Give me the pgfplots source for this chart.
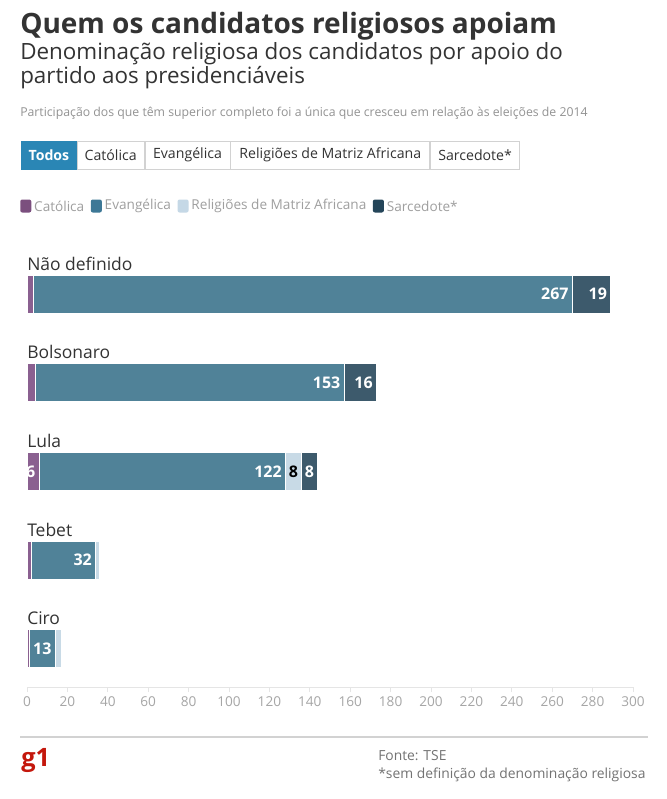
\documentclass[border=0pt]{standalone}
\usepackage{pgfplots}
\pgfplotsset{compat=1.18}
\usepackage{pgfplotstable}
\usepackage{fontspec}
\setmainfont{Open Sans}

\definecolor{cCat}{HTML}{8A6090}
\definecolor{cEvg}{HTML}{508298}
\definecolor{cAfr}{HTML}{C8DAE6}
\definecolor{cSac}{HTML}{3D5A6C}
\definecolor{lCat}{HTML}{7B4F7E}
\definecolor{lEvg}{HTML}{3D7896}
\definecolor{lAfr}{HTML}{C5D8E6}
\definecolor{lSac}{HTML}{244559}
\definecolor{btnBlue}{HTML}{2A86B5}
\definecolor{txtDark}{HTML}{333333}
\definecolor{g1red}{HTML}{C4170C}

\pgfplotstableread{
idx cat catl evg evgl afr afrl sac sacl
0 3 {} 267 267 0 {} 19 19
1 4 {} 153 153 0 {} 16 16
2 6 6 122 122 8 8 8 8
3 2 {} 32 32 2 {} 0 {}
4 1 {} 13 13 3 {} 0 {}
}\data

\begin{document}
\begin{tikzpicture}
\begin{scope}[x=0.75pt,y=-0.75pt]
\path[use as bounding box, fill=white] (0,0) rectangle (667,799);
% title
\node[anchor=base west, inner sep=0, font=\fontsize{21}{24}\selectfont\bfseries, text=txtDark] at (20,34) {Quem os candidatos religiosos apoiam};
\node[anchor=base west, inner sep=0, font=\fontsize{16.8}{19}\selectfont, text=txtDark] at (20,60) {Denominação religiosa dos candidatos por apoio do};
\node[anchor=base west, inner sep=0, font=\fontsize{16.8}{19}\selectfont, text=txtDark] at (20,84) {partido aos presidenciáveis};
\node[anchor=base west, inner sep=0, font=\fontsize{9.2}{11}\selectfont, text=gray!85] at (20,116) {Participação dos que têm superior completo foi a única que cresceu em relação às eleições de 2014};
% buttons
\tikzset{btn/.style={draw=gray!35, line width=0.6pt, minimum height=21pt, inner sep=0, anchor=west, font=\fontsize{10.6}{12}\selectfont, text=txtDark}}
\node[btn, fill=btnBlue, draw=btnBlue, text=white, font=\fontsize{10.6}{12}\selectfont\bfseries, minimum width=41.25pt] (b1) at (21,155) {Todos};
\node[btn, minimum width=50.25pt] (b2) at (b1.east) {Católica};
\node[btn, minimum width=63.75pt] (b3) at (b2.east) {Evangélica};
\node[btn, minimum width=149.25pt] (b4) at (b3.east) {Religiões de Matriz Africana};
\node[btn, minimum width=66.75pt] (b5) at (b4.east) {Sarcedote*};
% legend
\tikzset{sq/.style={rounded corners=1.5pt, minimum width=8.25pt, minimum height=9.75pt, inner sep=0, anchor=west},
 lt/.style={anchor=west, inner sep=0, font=\fontsize{10.2}{12}\selectfont, text=gray!75}}
\node[sq, fill=lCat] (s1) at (20,206) {};
\node[lt] (t1) at ([xshift=1.8pt]s1.east) {Católica};
\node[sq, fill=lEvg] (s2) at ([xshift=4.5pt]t1.east) {};
\node[lt] (t2) at ([xshift=1.8pt]s2.east) {Evangélica};
\node[sq, fill=lAfr] (s3) at ([xshift=4.5pt]t2.east) {};
\node[lt] (t3) at ([xshift=1.8pt]s3.east) {Religiões de Matriz Africana};
\node[sq, fill=lSac] (s4) at ([xshift=4.5pt]t3.east) {};
\node[lt] (t4) at ([xshift=1.8pt]s4.east) {Sarcedote*};
% footer
\draw[gray!35, line width=1.5pt] (20,737) -- (648,737);
\node[anchor=base west, inner sep=0, font=\fontsize{19}{22}\selectfont\bfseries, text=g1red] at (21,766) {g1};
\node[anchor=base west, inner sep=0, font=\fontsize{10.4}{12}\selectfont, text=gray!90!black] at (378,760) {Fonte: TSE};
\node[anchor=base west, inner sep=0, font=\fontsize{10.4}{12}\selectfont, text=gray!90!black] at (378,778) {*sem definição da denominação religiosa};
\end{scope}

\begin{axis}[
  at={(20.25pt,-515.25pt)}, anchor=south west,
  scale only axis, width=454.5pt, height=334.5pt,
  xbar stacked, bar width=28.5pt,
  xmin=0, xmax=300, ymin=-0.6, ymax=4.43, y dir=reverse,
  axis y line=none, axis x line*=bottom,
  ytick=\empty,
  xtick={0,20,...,300}, xtick align=outside, major tick length=3.75pt,
  x axis line style={draw=gray!20, line width=0.75pt},
  tick style={draw=gray!20, line width=0.75pt},
  xticklabel style={font=\fontsize{10.2}{12}\selectfont, text=gray!70},
  /pgf/number format/assume math mode=true,
  point meta=explicit symbolic,
  visualization depends on={rawx \as \rawx},
  nodes near coords,
  every node near coord/.append style={anchor=east, xshift=\rawx*0.7575pt-2.5pt, inner sep=0, font=\fontsize{12}{14}\selectfont\bfseries, text=white},
  clip=false,
]
\addplot[fill=cCat, draw=white, line width=0.75pt] table[x=cat, y=idx, meta=catl] {\data};
\addplot[fill=cEvg, draw=white, line width=0.75pt] table[x=evg, y=idx, meta=evgl] {\data};
\addplot[fill=cAfr, draw=white, line width=0.75pt, every node near coord/.append style={text=black}] table[x=afr, y=idx, meta=afrl] {\data};
\addplot[fill=cSac, draw=white, line width=0.75pt] table[x=sac, y=idx, meta=sacl] {\data};
\tikzset{cl/.style={anchor=base west, inner sep=0, yshift=18pt, font=\fontsize{13.1}{15}\selectfont, text=txtDark}}
\node[cl] at (axis cs:0,0) {Não definido};
\node[cl] at (axis cs:0,1) {Bolsonaro};
\node[cl] at (axis cs:0,2) {Lula};
\node[cl] at (axis cs:0,3) {Tebet};
\node[cl] at (axis cs:0,4) {Ciro};
\end{axis}
\end{tikzpicture}
\end{document}
